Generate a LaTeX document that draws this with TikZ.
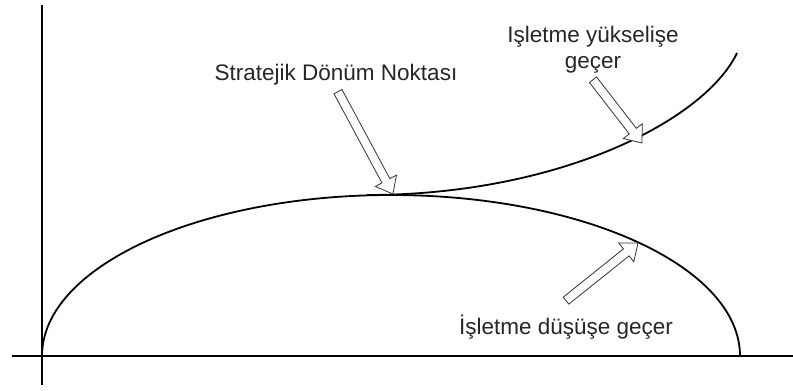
\documentclass[tikz,border=0pt]{standalone}
\usepackage{fontspec}
\setmainfont{Liberation Sans}
\usetikzlibrary{calc}

\tikzset{
  axis/.style={line width=2.6},
  curve/.style={line width=1.8},
  lbl/.style={font=\fontsize{22.5}{26}\selectfont, text=black!85, inner sep=0pt, align=center},
  hollow/.style={line width=0.8, fill=white, draw=black!80}
}

% hollow block arrow from #1 (tail) to #2 (tip)
\newcommand{\blockarrow}[2]{%
  \coordinate (hb) at ($(#2)!15pt!(#1)$);
  \draw[hollow] ($(#1)!4.5pt!90:(#2)$) -- ($(hb)!4.5pt!90:(#2)$) -- ($(hb)!12pt!90:(#2)$)
    -- (#2) -- ($(hb)!12pt!-90:(#2)$) -- ($(hb)!4.5pt!-90:(#2)$) -- ($(#1)!4.5pt!-90:(#2)$) -- cycle;
}

\begin{document}
\begin{tikzpicture}[x=1pt, y=1pt]
  \useasboundingbox (0,0) rectangle (793,391);

  \coordinate (origin) at (42,35);
  \coordinate (peak) at (391,196);
  \coordinate (risestart) at (367,196);
  \coordinate (risetop) at (737,338);

  \draw[axis] (42,6) -- (42,386);
  \draw[axis] (12,35) -- (793,35);

  \draw[curve] (origin) arc[start angle=180, end angle=0, x radius=349, y radius=161];
  \draw[curve] (risestart) .. controls (560,196) and (705,271) .. (risetop);

  \node[lbl] (donum) at (336,316) {Stratejik Dönüm Noktası};
  \node[lbl] (yukselis) at (593,341) {Işletme yükselişe\\geçer};
  \node[lbl] (dusus) at (566,64) {İşletme düşüşe geçer};

  \coordinate (tail1) at ([shift={(2,-6)}]donum.south);
  \coordinate (tip1) at (393,197);
  \coordinate (tail2) at ([shift={(0,-6)}]yukselis.south);
  \coordinate (tip2) at (642,248);
  \coordinate (tail3) at ([shift={(0,14)}]dusus.north);
  \coordinate (tip3) at (638,148);

  \blockarrow{tail1}{tip1}
  \blockarrow{tail2}{tip2}
  \blockarrow{tail3}{tip3}
\end{tikzpicture}
\end{document}
